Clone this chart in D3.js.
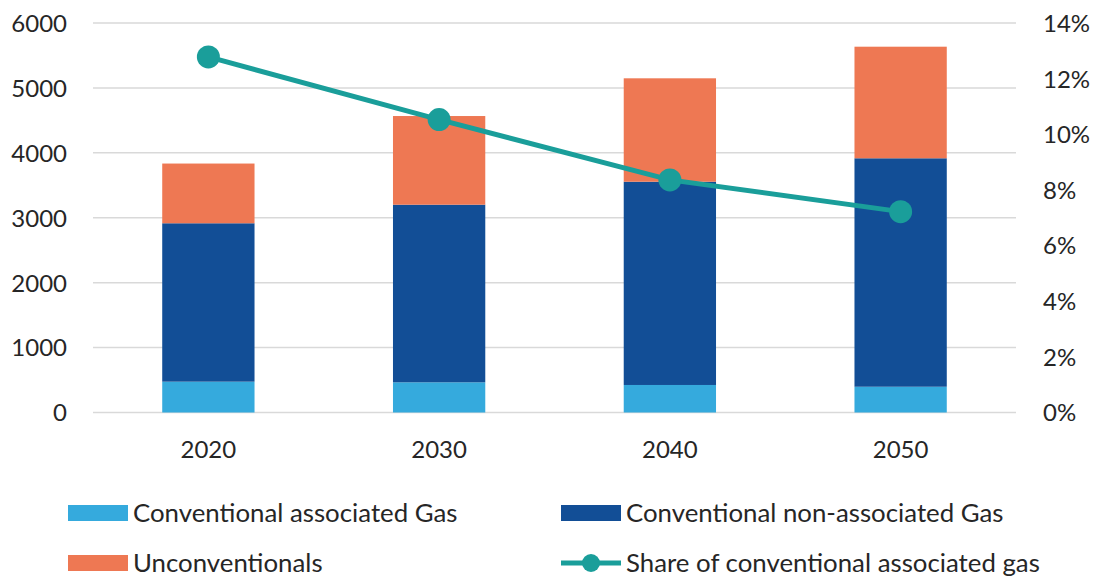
<!DOCTYPE html>
<html>
<head>
<meta charset="utf-8">
<script src="https://cdn.jsdelivr.net/npm/d3@7"></script>
<style>
  body { margin: 0; background: #fff; }
  svg text { font-family: Lato, "Open Sans", sans-serif; fill: #262626; }
</style>
</head>
<body>
<svg id="chart" width="1093" height="576"></svg>
<script>
// chart values
var years = ["2020", "2030", "2040", "2050"];
var associated = [475, 465, 424, 397];
var nonAssociated = [2440, 2736, 3131, 3519];
var unconventionals = [920, 1366, 1593, 1719];
var shareAssociated = [12.78, 10.53, 8.36, 7.22];
var leftTicks = [0, 1000, 2000, 3000, 4000, 5000, 6000];
var rightTicks = [0, 2, 4, 6, 8, 10, 12, 14];

var seriesNames = ["Conventional associated Gas", "Conventional non-associated Gas", "Unconventionals"];
var seriesKeys = ["assoc", "nonassoc", "unconv"];
var colors = { assoc: "#35aadd", nonassoc: "#124e96", unconv: "#ee7853" };
var lineColor = "#1a9e9a";

var rows = years.map(function(y, i){
    return { year: y, assoc: associated[i], nonassoc: nonAssociated[i], unconv: unconventionals[i], share: shareAssociated[i] };
});

var svg = d3.select("#chart");
var plotLeft = 93, plotRight = 1016, plotTop = 23, plotBottom = 412.5;

var x = d3.scaleBand().domain(years).range([plotLeft, plotRight]).paddingInner(0.6).paddingOuter(0.3);
var y = d3.scaleLinear().domain([0, 6000]).range([plotBottom, plotTop]);
var y2 = d3.scaleLinear().domain([0, 14]).range([plotBottom, plotTop]);

// gridlines
svg.append("g")
    .selectAll("line").data(leftTicks).join("line")
    .attr("x1", plotLeft).attr("x2", plotRight)
    .attr("y1", function(d){ return y(d); })
    .attr("y2", function(d){ return y(d); })
    .attr("stroke", "#d9d9d9").attr("stroke-width", 1.5);

// left axis
var yAxis = svg.append("g")
    .attr("transform", "translate(" + (plotLeft - 26) + ",0)")
    .call(d3.axisLeft(y).tickValues(leftTicks).tickSize(0).tickPadding(0).tickFormat(d3.format("d")));
yAxis.select(".domain").remove();
yAxis.selectAll("text").style("font-size", "24px").attr("dy", "0.35em");

// right axis
var y2Axis = svg.append("g")
    .attr("transform", "translate(" + (plotRight + 27) + ",0)")
    .call(d3.axisRight(y2).tickValues(rightTicks).tickSize(0).tickPadding(0).tickFormat(function(d){ return d + "%"; }));
y2Axis.select(".domain").remove();
y2Axis.selectAll("text").style("font-size", "24px").attr("dy", "0.35em");

// x axis
var xAxis = svg.append("g")
    .attr("transform", "translate(0," + plotBottom + ")")
    .call(d3.axisBottom(x).tickSize(0).tickPadding(28));
xAxis.select(".domain").remove();
xAxis.selectAll("text").style("font-size", "24px");

// stacked bars
var stacked = d3.stack().keys(seriesKeys)(rows);
svg.append("g")
    .selectAll("g").data(stacked).join("g")
    .attr("fill", function(d){ return colors[d.key]; })
    .selectAll("rect").data(function(d){ return d; }).join("rect")
    .attr("x", function(d){ return x(d.data.year); })
    .attr("width", x.bandwidth())
    .attr("y", function(d){ return y(d[1]); })
    .attr("height", function(d){ return y(d[0]) - y(d[1]); });

// share line
var cx = function(d){ return x(d.year) + x.bandwidth() / 2; };
svg.append("path")
    .datum(rows)
    .attr("fill", "none")
    .attr("stroke", lineColor)
    .attr("stroke-width", 5)
    .attr("d", d3.line().x(cx).y(function(d){ return y2(d.share); }));
svg.append("g")
    .selectAll("circle").data(rows).join("circle")
    .attr("cx", cx)
    .attr("cy", function(d){ return y2(d.share); })
    .attr("r", 11.5)
    .attr("fill", lineColor);

// legend
var legendItems = [
    { name: seriesNames[0], key: "assoc", x: 68, y: 513 },
    { name: seriesNames[1], key: "nonassoc", x: 561, y: 513 },
    { name: seriesNames[2], key: "unconv", x: 68, y: 563 },
    { name: "Share of conventional associated gas", key: "line", x: 561, y: 563 }
];
var lg = svg.append("g").selectAll("g").data(legendItems).join("g")
    .attr("transform", function(d){ return "translate(" + d.x + "," + d.y + ")"; });
lg.each(function(d){
    var g = d3.select(this);
    if (d.key == "line"){
        g.append("line").attr("x1", 0).attr("x2", 60).attr("y1", 0).attr("y2", 0)
            .attr("stroke", lineColor).attr("stroke-width", 5);
        g.append("circle").attr("cx", 30).attr("cy", 0).attr("r", 9).attr("fill", lineColor);
    } else {
        g.append("rect").attr("x", 0).attr("y", -8).attr("width", 60).attr("height", 16)
            .attr("fill", colors[d.key]);
    }
    g.append("text").attr("x", 65).attr("y", 0).attr("dy", "0.35em")
        .style("font-size", "25.8px").text(d.name);
});
</script>
</body>
</html>
